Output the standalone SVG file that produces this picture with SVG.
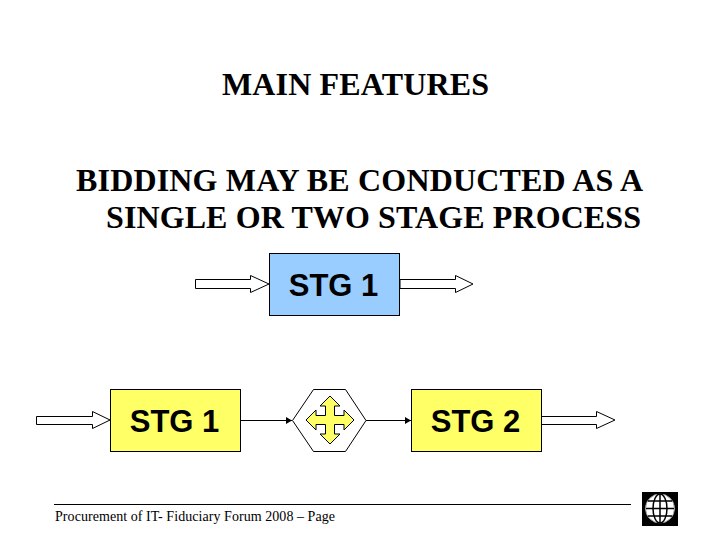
<svg xmlns="http://www.w3.org/2000/svg" width="720" height="540" viewBox="0 0 720 540">
<style>
.t{font-family:"Liberation Serif","Times New Roman",serif;font-size:32px;font-weight:bold;fill:#000}
.b{font-family:"Liberation Sans",Arial,sans-serif;font-size:31px;font-weight:bold;fill:#000;text-anchor:middle}
.a{fill:#fff;stroke:#000;stroke-width:1}
.box{stroke:#000;stroke-width:1}
.l{fill:none;stroke:#000;stroke-width:1}
.g{fill:none;stroke:#000;stroke-width:1.5}
</style>
<defs>
<marker id="ah" markerUnits="userSpaceOnUse" markerWidth="7" markerHeight="7" refX="6" refY="3.500" orient="auto"><path d="M0 0L6 3.500L0 7Z" fill="#000"/></marker>
</defs>
<rect width="720" height="540" fill="#fff"/>
<g id="titles">
<text class="t" x="222" y="95" textLength="267">MAIN FEATURES</text>
<text class="t" x="76" y="191" textLength="567">BIDDING MAY BE CONDUCTED AS A</text>
<text class="t" x="106" y="228" textLength="535">SINGLE OR TWO STAGE PROCESS</text>
</g>
<g id="connectors">
<path class="a" d="M195.500 279.500H250.500V275.500L269 284L250.500 292.500V288.500H195.500Z"/>
<path class="a" d="M400 279.500H455.500V275.500L473 284L455.500 292.500V288.500H400Z"/>
<path class="a" d="M36.500 416.500H92.500V411.500L110 420L92.500 428.500V424.500H36.500Z"/>
<path class="a" d="M541 416.500H596.500V411.500L615 420L596.500 428.500V424.500H541Z"/>
<path class="l" d="M241 420.500H292" marker-end="url(#ah)"/>
<path class="l" d="M366 420.500H411" marker-end="url(#ah)"/>
</g>
<g id="stg1-top">
<rect class="box" x="269.500" y="253.500" width="130" height="62" fill="#99ccff"/>
<text class="b" x="333.500" y="296">STG 1</text>
</g>
<g id="stg1-bottom">
<rect class="box" x="110.500" y="389.500" width="130" height="62" fill="#ffff66"/>
<text class="b" x="174.500" y="432">STG 1</text>
</g>
<g id="decision">
<path d="M292.500 420.500L313.500 389.500H345.500L366 420.500L345.500 451.500H313.500Z" fill="#fff" stroke="#000"/>
<path d="M330 396L340 406H334.500V415.500H344V410L354 420L344 430V424.500H334.500V434H340L330 444L320 434H325.500V424.500H316V430L306 420L316 410V415.500H325.500V406H320Z" fill="#ffff66" stroke="#000"/>
</g>
<g id="stg2">
<rect class="box" x="411.500" y="389.500" width="130" height="62" fill="#ffff66"/>
<text class="b" x="475.500" y="432">STG 2</text>
</g>
<g id="footer">
<path class="l" d="M54 504.500H631"/>
<text x="55" y="520.500" textLength="280" font-family="'Liberation Serif','Times New Roman',serif" font-size="14px" fill="#000">Procurement of IT- Fiduciary Forum 2008 – Page</text>
</g>
<g id="logo">
<rect x="642" y="492" width="36" height="34" fill="#000"/>
<circle cx="660" cy="508.500" r="14.500" fill="#fff" stroke="#999" stroke-width="1"/>
<ellipse class="g" cx="660" cy="508.500" rx="7" ry="14.500"/>
<path class="g" d="M660 494V523M646 508.500H674M648 501H672M648 516H672"/>
</g>
</svg>
